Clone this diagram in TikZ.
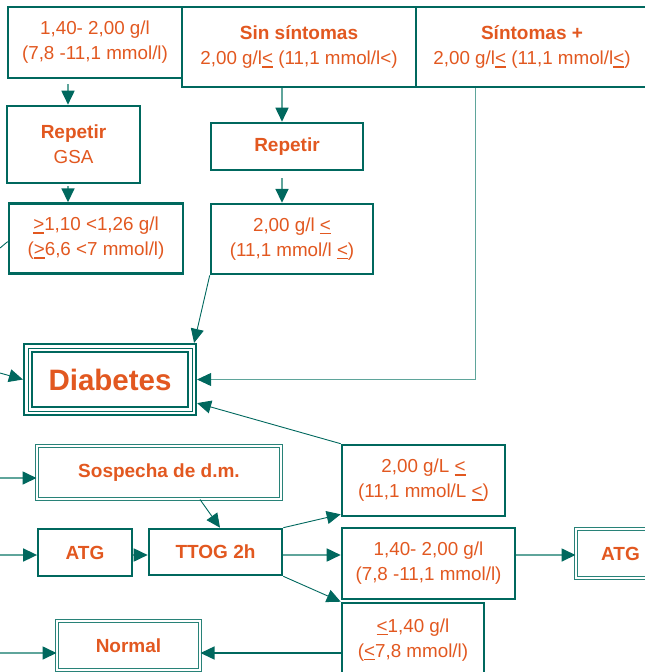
\documentclass[tikz,border=0pt]{standalone}
\usepackage{fontspec}
\setmainfont{Liberation Sans}
\usepackage{tikz}
\usetikzlibrary{arrows.meta,positioning,fit,calc}
\definecolor{tealdark}{RGB}{0,104,94}
\definecolor{tealmid}{RGB}{40,130,120}
\definecolor{teallight}{RGB}{95,165,155}
\definecolor{orangetext}{RGB}{226,88,32}
\newcommand{\ulsym}[1]{\sbox0{#1}\rlap{\rule[-3pt]{\wd0}{1.7pt}}\usebox0}
\newcommand{\leqsym}{\ulsym{<}}
\newcommand{\geqsym}{\ulsym{>}}
\newcommand{\hd}[1]{{\fontsize{19}{24}\selectfont\bfseries #1}}

\begin{document}
\begin{tikzpicture}[
  x=1pt, y=-1pt,
  every node/.style={text=orangetext, align=center, inner sep=0pt, font=\fontsize{18.8}{25}\selectfont},
  box/.style={draw=tealdark, line width=2.6pt, fill=white},
  lbox/.style={draw=tealdark, line width=1.8pt, fill=white},
  dbox/.style={draw=tealmid, line width=1pt, double=white, double distance=1.6pt},
  head/.style={font=\fontsize{19}{24}\selectfont\bfseries},
  arr/.style={-{Triangle[length=14pt,width=13pt,color=tealdark]}, line width=0.9pt, color=tealdark},
  arrw/.style={-{Triangle[length=14pt,width=13pt,color=tealdark]}, line width=1.7pt, color=teallight},
  arrl/.style={-{Triangle[length=14pt,width=13pt,color=tealdark]}, line width=0.9pt, color=teallight},
  link/.style={line width=0.9pt, color=tealdark},
]
  \clip (0,0) rectangle (645,672);

  % top row
  \node[box, minimum width=174pt, minimum height=71pt] (r140top) at (95,42.5)
    {1,40- 2,00 g/l\\(7,8 -11,1 mmol/l)};
  \node[box, minimum width=234pt, minimum height=80pt] (sinsint) at (299,47)
    {\hd{Sin síntomas}\\2,00 g/l\leqsym\ (11,1 mmol/l<)};
  \node[box, minimum width=232pt, minimum height=80pt] (consint) at (532,47)
    {\hd{Síntomas +}\\2,00 g/l\leqsym\ (11,1 mmol/l\leqsym)};

  % repeat steps
  \node[box, minimum width=133pt, minimum height=77pt] (repgsa) at (73.5,144.5)
    {\hd{Repetir}\\GSA};
  \node[box, minimum width=174pt, minimum height=70pt, below=18pt of repgsa.south west, anchor=north west, xshift=2pt] (ge110)
    {\geqsym1,10 <1,26 g/l\\(\geqsym6,6 <7 mmol/l)};
  \node[box, head, minimum width=152pt, minimum height=47pt] (rep2) at (287,146.5) {Repetir};
  \node[box, minimum width=162pt, minimum height=70pt, below=31.5pt of rep2.south west, anchor=north west] (ge200)
    {2,00 g/l \leqsym\\(11,1 mmol/l \leqsym)};

  % diabetes
  \node[box, line width=2.3pt, outer sep=0pt, minimum width=156pt, minimum height=55pt,
        font=\fontsize{29.5}{30}\selectfont\bfseries] (diab) at (110,379.5) {Diabetes};
  \node[draw=tealdark, line width=0.9pt, inner sep=4pt, fit=(diab)] (diabmid) {};
  \node[draw=tealdark, line width=2.2pt, inner sep=8pt, fit=(diab)] (diabout) {};

  % lower part
  \node[dbox, head, minimum width=244pt, minimum height=53pt] (sosp) at (159,472.5) {Sospecha de d.m.};
  \node[lbox, head, minimum width=94pt, minimum height=47pt] (atg1) at (85,552.5) {ATG};
  \node[box, head, minimum width=133pt, minimum height=46pt] (ttog) at (215.5,552) {TTOG 2h};
  \node[box, minimum width=163pt, minimum height=71pt] (gl200) at (423.5,480.5)
    {2,00 g/L \leqsym\\(11,1 mmol/L \leqsym)};
  \node[box, minimum width=173pt, minimum height=71pt] (b140) at (428.5,563.5)
    {1,40- 2,00 g/l\\(7,8 -11,1 mmol/l)};
  \node[dbox, head, minimum width=89pt, minimum height=49pt] (atg2) at (620.5,553.5) {ATG};
  \node[box, minimum width=142pt, minimum height=74pt] (le140) at (413,640)
    {\leqsym1,40 g/l\\(\leqsym7,8 mmol/l)};
  \node[dbox, head, minimum width=143pt, minimum height=49pt] (normal) at (128.5,645.5) {Normal};

  % free ends on the left
  \coordinate (inge110) at (0,248);
  \coordinate (indiab) at (0,373);
  \coordinate (insosp) at (0,478);
  \coordinate (inatg) at (0,555);
  \coordinate (innormal) at (0,653);

  % arrows
  \draw[arrw, shorten <=5pt] ([xshift=-27pt]r140top.south) -- ([xshift=-5.5pt]repgsa.north);
  \draw[arrw, shorten <=2pt] ([xshift=-5.5pt]repgsa.south) -- ([xshift=-28pt]ge110.north);
  \draw[arrw] ([xshift=-17pt]sinsint.south) -- ([xshift=-5pt]rep2.north);
  \draw[arrw, shorten <=7pt] ([xshift=-5pt]rep2.south) -- ([xshift=-10pt]ge200.north);
  \draw[link] (inge110) -- ([yshift=-3pt]ge110.west);

  \draw[arr] (ge200.south west) -- ([xshift=-3pt]diabout.north east);
  \draw[arrl] ([xshift=-57pt]consint.south) |- (diabout.east);
  \draw[arr] (indiab) -- (diabout.west);
  \draw[arr] (gl200.north west) -- ([yshift=13pt]diabout.south east);

  \draw[arrw] (insosp) -- (insosp -| sosp.west);
  \draw[arr] ([xshift=41pt]sosp.south) -- ([xshift=4.5pt]ttog.north);
  \draw[arrw] (inatg) -- (inatg -| atg1.west);
  \draw[arrw] (inatg -| atg1.east) -- (inatg -| ttog.west);
  \draw[arr] (ttog.north east) -- ([yshift=3pt]gl200.south west);
  \draw[arrw] (inatg -| ttog.east) -- (inatg -| b140.west);
  \draw[arr] (ttog.south east) -- (le140.north west);
  \draw[arrw] (inatg -| b140.east) -- (inatg -| atg2.west);
  \draw[arrw] (innormal) -- (innormal -| normal.west);
  \draw[arr, line width=1.4pt] (innormal -| le140.west) -- (innormal -| normal.east);
\end{tikzpicture}
\end{document}
